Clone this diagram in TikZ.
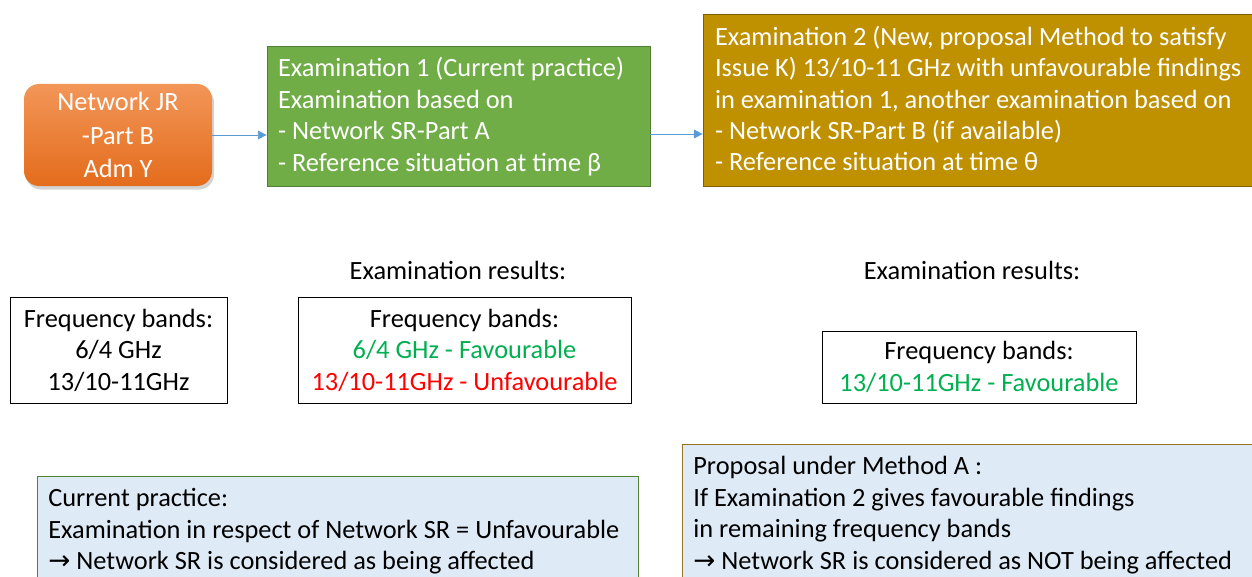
\documentclass[tikz,border=0pt]{standalone}
\usepackage{fontspec}
\setmainfont{Carlito}
\newfontfamily\arrowfont{DejaVu Sans}
\usepackage{tikz}
\usetikzlibrary{shapes.geometric, arrows.meta, positioning, shadows, calc, backgrounds}

\definecolor{orangetop}{RGB}{242,150,88}
\definecolor{orangebot}{RGB}{228,108,28}
\definecolor{examgreen}{RGB}{112,173,71}
\definecolor{examgreenline}{RGB}{80,126,50}
\definecolor{examgold}{RGB}{191,144,0}
\definecolor{examgoldline}{RGB}{127,96,0}
\definecolor{notefill}{RGB}{222,235,247}
\definecolor{notegreen}{RGB}{84,130,53}
\definecolor{notegold}{RGB}{150,115,30}
\definecolor{linkblue}{RGB}{91,155,213}
\definecolor{favgreen}{RGB}{0,176,80}
\definecolor{unfavred}{RGB}{255,0,0}

\tikzset{
    bandbox/.style={rectangle,draw=black,align=center,inner sep=0pt},
    notebox/.style={rectangle,fill=notefill,anchor=north west},
    boxtext/.style={align=left,inner sep=0pt},
    link/.style={draw=linkblue,line width=0.5pt,-{Triangle[length=5pt,width=5pt]}}
}

\begin{document}
\begin{tikzpicture}[font=\fontsize{15}{17.9}\selectfont]
    \clip (0,0) rectangle (25.04,-11.52);
    \useasboundingbox (0,0) rectangle (25.04,-11.52);

    % Rete di partenza
    \node[rectangle,rounded corners=0.3cm,top color=orangetop,bottom color=orangebot,
          drop shadow={opacity=0.35,shadow xshift=0.04cm,shadow yshift=-0.07cm},
          minimum width=3.76cm,minimum height=2.04cm,text=white,align=center] (net) at (2.36,-2.70) {
        Network JR\\[1pt] -Part B\\[1pt] Adm Y
    };

    % Esame 1
    \node[rectangle,draw=examgreenline,fill=examgreen,minimum width=7.66cm,minimum height=2.8cm] (exam1) at (9.17,-2.32) {};
    \node[boxtext,text=white,anchor=west] (exam1txt) at ($(exam1.west)+(0.22,-0.01)$) {
        Examination 1 (Current practice)\\
        Examination based on\\
        - Network SR-Part A\\
        - Reference situation at time β
    };

    % Esame 2
    \node[rectangle,draw=examgoldline,fill=examgold,minimum width=11cm,minimum height=3.44cm] (exam2) at (19.56,-2.00) {};
    \node[boxtext,text=white,anchor=west] (exam2txt) at ($(exam2.west)+(0.24,0.03)$) {
        Examination 2 (New, proposal Method to satisfy\\
        Issue K) 13/10-11 GHz with unfavourable findings\\
        in examination 1, another examination based on\\
        - Network SR-Part B (if available)\\
        - Reference situation at time θ
    };

    \draw[link] (net.east) -- (net.east -| exam1.west);
    \draw[link] (exam1.east |- 0,-2.68) -- (exam2.west |- 0,-2.68);

    % Risultati
    \node (res1) at (9.16,-5.40) {Examination results:};
    \node (res2) at (19.44,-5.40) {Examination results:};

    % Bande di frequenza
    \node[bandbox,minimum width=4.34cm,minimum height=2.12cm] (bands0) at (2.37,-7.00) {
        Frequency bands:\\ 6/4 GHz\\ 13/10-11GHz
    };
    \node[bandbox,minimum width=6.66cm,minimum height=2.12cm] (bands1) at (9.29,-7.00) {
        Frequency bands:\\ \textcolor{favgreen}{6/4 GHz - Favourable}\\ \textcolor{unfavred}{13/10-11GHz - Unfavourable}
    };
    \node[bandbox,minimum width=6.28cm,minimum height=1.44cm] (bands2) at (19.58,-7.34) {
        Frequency bands:\\ \textcolor{favgreen}{13/10-11GHz - Favourable}
    };

    % Conclusioni
    \node[notebox,draw=notegreen,minimum width=12.02cm,minimum height=2.4cm] (practice) at (0.74,-9.52) {};
    \node[boxtext,anchor=north west] (practicetxt) at ($(practice.north west)+(0.22,-0.24)$) {
        Current practice:\\
        Examination in respect of Network SR = Unfavourable\\
        {\arrowfont →} Network SR is considered as being affected
    };
    \node[notebox,draw=notegold,minimum width=11.6cm,minimum height=3.0cm] (proposal) at (13.64,-8.88) {};
    \node[boxtext,anchor=north west] (proposaltxt) at ($(proposal.north west)+(0.22,-0.24)$) {
        Proposal under Method A :\\
        If Examination 2 gives favourable findings\\
        in remaining frequency bands\\
        {\arrowfont →} Network SR is considered as NOT being affected
    };
\end{tikzpicture}
\end{document}
